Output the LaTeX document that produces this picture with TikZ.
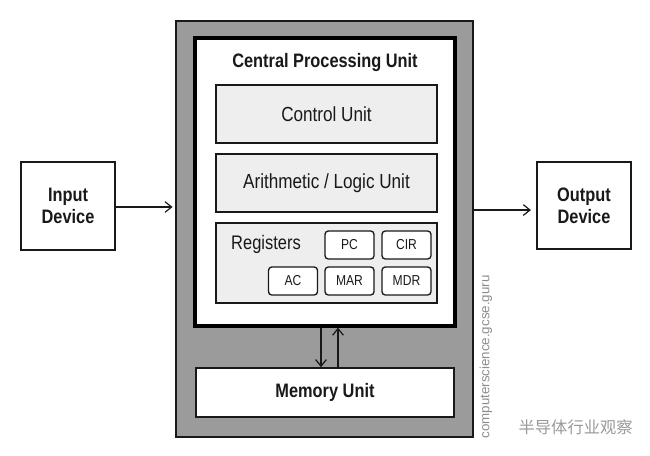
\documentclass[tikz,border=0pt]{standalone}
\usepackage{fontspec}
\setmainfont[FakeStretch=0.84]{Liberation Sans}
\newfontfamily\cjk{Noto Sans CJK SC}
\newfontfamily\wm{Liberation Sans}
\usetikzlibrary{arrows.meta,calc}
\definecolor{outergray}{RGB}{155,155,155}
\definecolor{unitfill}{RGB}{238,238,238}
\definecolor{edge}{RGB}{25,25,25}
\begin{document}
\begin{tikzpicture}[x=0.75pt,y=-0.75pt,
  box/.style={draw=edge,line width=1.1pt,fill=white,inner sep=0pt,align=center,text=edge},
  unit/.style={draw=edge,line width=1.1pt,fill=unitfill,inner sep=0pt,minimum width=221*0.75pt,font=\fontsize{15.3}{17}\selectfont,text=edge},
  regbox/.style={draw=edge,line width=1pt,fill=white,rounded corners=2.5pt,inner sep=0pt,minimum width=49*0.75pt,minimum height=28*0.75pt,font=\fontsize{10.8}{12}\selectfont,text=edge},
  conn/.style={line width=1.6pt,draw=edge,-{Straight Barb[length=5pt,width=8pt,line width=0.9pt]}},
  boldlab/.style={font=\bfseries\fontsize{14.6}{16.5}\selectfont,text=edge}]
\useasboundingbox (0,0) rectangle (650,455);
% outer computer box
\node[draw=edge,line width=1.1pt,fill=outergray,minimum width=297*0.75pt,minimum height=416*0.75pt,inner sep=0pt] (outer) at (324.5,229) {};
% CPU
\node[draw=black,line width=2.4pt,fill=white,minimum width=260*0.75pt,minimum height=288*0.75pt,inner sep=0pt] (cpu) at (325,182) {};
\node[boldlab] (title) at (325,63) {Central Processing Unit};
\node[unit,minimum height=58*0.75pt] (cu) at (326.5,114) {Control Unit};
\node[unit,minimum height=58*0.75pt] (alu) at (326.5,183) {Arithmetic / Logic Unit};
\node[unit,minimum height=80*0.75pt] (reg) at (326.5,263) {};
\node[font=\fontsize{14.7}{16}\selectfont,text=edge] (reglab) at (266,244) {Registers};
\node[regbox] (pc) at (349.5,245) {PC};
\node[regbox] (cir) at (406.5,245) {CIR};
\node[regbox] (ac) at (293,281) {AC};
\node[regbox] (mar) at (349.5,281) {MAR};
\node[regbox] (mdr) at (406.5,281) {MDR};
% memory
\node[box,line width=1.2pt,minimum width=258*0.75pt,minimum height=49*0.75pt,boldlab] (mem) at (325,392.5) {Memory Unit};
% I/O devices
\node[box,minimum width=94*0.75pt,minimum height=88*0.75pt,boldlab] (in) at (68,206) {Input\\Device};
\node[box,minimum width=94*0.75pt,minimum height=87*0.75pt,boldlab] (out) at (584,205.5) {Output\\Device};
% connectors
\draw[conn,shorten >=2pt] (in.east |- 0,207) -- (outer.west |- 0,207);
\draw[conn,shorten >=4pt] (outer.east |- 0,210) -- (out.west |- 0,210);
\draw[conn] ($(cpu.south)+(-4,0)$) -- ($(mem.north)+(-4,0)$);
\draw[conn] ($(mem.north)+(13,0)$) -- ($(cpu.south)+(13,0)$);
% watermarks
\node[rotate=90,text=black!45,font=\wm\fontsize{10}{11}\selectfont] (site) at (486,357) {computerscience.gcse.guru};
\node[text=black!40,font=\cjk\fontsize{12.2}{14}\selectfont,anchor=west] (wx) at (514,427) {半导体行业观察};
\end{tikzpicture}
\end{document}
